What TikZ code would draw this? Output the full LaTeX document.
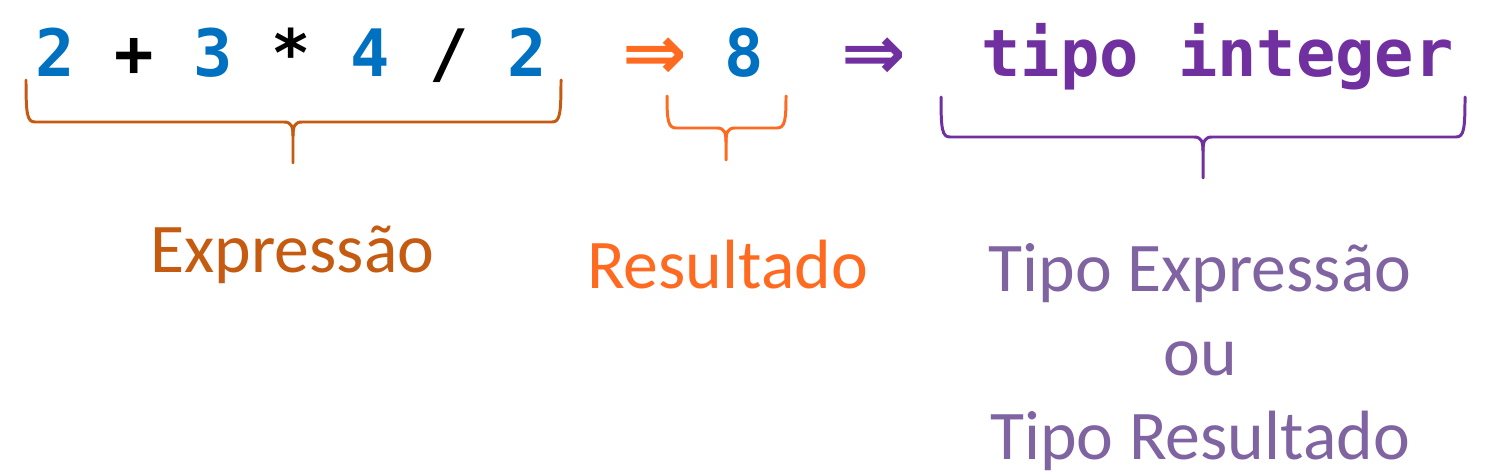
\documentclass[tikz,border=0pt]{standalone}
\usepackage{fontspec}
\setmainfont{Carlito}
\newfontfamily\codigo{DejaVu Sans Mono}
\newfontfamily\setafont{DejaVu Sans}

\definecolor{azul}{HTML}{0070C0}
\definecolor{laranja}{HTML}{FF6A21}
\definecolor{laranjaescuro}{HTML}{C55A11}
\definecolor{roxo}{HTML}{7030A0}
\definecolor{lilas}{HTML}{8064A2}

\tikzset{
  codigo/.style={inner sep=0pt, anchor=base, font=\codigo\bfseries\fontsize{37.2}{40}\selectfont},
  seta/.style={inner sep=0pt, anchor=base, font=\setafont\bfseries\fontsize{44}{46}\selectfont},
  rotulo/.style={inner sep=0pt, anchor=base, align=center, font=\fontsize{39.7}{47.6}\selectfont},
  chave/.style={line width=1.7pt, line cap=round, line join=round}
}

% chave: cor, x esq, x dir, y topo, y linha, x ponta, y ponta
\newcommand{\desenhachave}[7]{
  \draw[chave, #1] (#2,#4) .. controls (#2,#5-8) and (#2+1,#5) .. (#2+9,#5)
    -- (#6-9,#5) .. controls (#6-2,#5) and (#6,#5+4) .. (#6,#5+14) -- (#6,#7);
  \draw[chave, #1] (#6,#5+14) .. controls (#6,#5+4) and (#6+2,#5) .. (#6+9,#5)
    -- (#3-9,#5) .. controls (#3-1,#5) and (#3,#5-8) .. (#3,#4);
}

\begin{document}
\begin{tikzpicture}[x=0.02cm, y=-0.02cm]
    \useasboundingbox (0,0) rectangle (1490,476);

    % linha de cima
    \node[codigo] (expr) at (291.5,77) {\textcolor{azul}{2} + \textcolor{azul}{3} * \textcolor{azul}{4} / \textcolor{azul}{2}};
    \node[seta, laranja] (seta1) at (655,80) {⇒};
    \node[codigo, azul] (res) at (744.5,77) {8};
    \node[seta, roxo] (seta2) at (874,80) {⇒};
    \node[codigo, roxo] (tipo) at (1217.5,77) {tipo integer};

    % chaves
    \desenhachave{laranjaescuro}{26}{561}{80}{122}{293}{163}
    \desenhachave{laranja}{667}{786}{96}{128}{726}{160}
    \desenhachave{roxo}{941}{1465}{97}{137}{1203}{178}

    % rotulos (base = ultima linha)
    \node[rotulo, laranjaescuro] (lexpr) at (292.5,272) {Expressão};
    \node[rotulo, laranja] (lres) at (727.5,288) {Resultado};
    \node[rotulo, lilas] (ltipo) at (1200,459) {Tipo Expressão\\ou\\Tipo Resultado};
\end{tikzpicture}
\end{document}
